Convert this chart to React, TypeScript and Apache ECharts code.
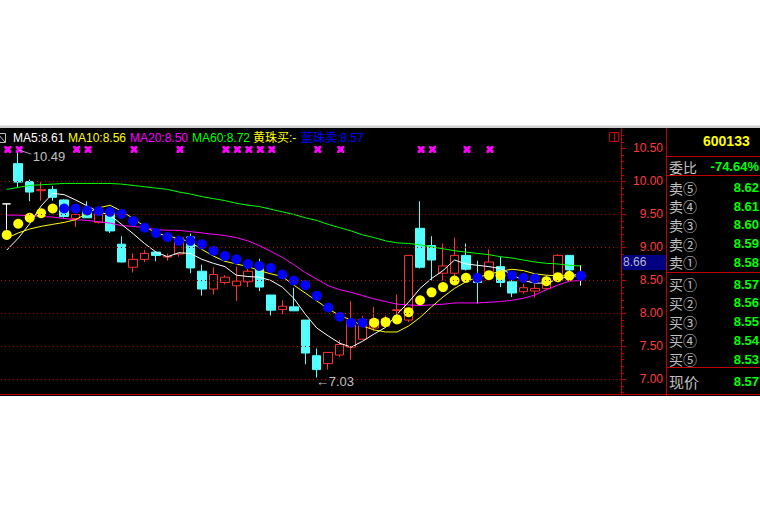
import React, { useEffect, useRef } from 'react';
import * as echarts from 'echarts';

// ---------- data ----------
const slotCount = 54; // trading-day slots on the axis (last ones empty)
const days: string[] = Array.from({ length: slotCount }, (_, i) => `D${i + 1}`);

// [open, close, low, high]
const candles: number[][] = [
  [9.66, 9.66, 9.27, 9.66],
  [10.27, 9.99, 9.9, 10.49],
  [10.0, 9.84, 9.7, 10.03],
  [9.86, 9.875, 9.71, 9.99],
  [9.88, 9.76, 9.71, 9.93],
  [9.72, 9.47, 9.45, 9.73],
  [9.44, 9.5, 9.31, 9.5],
  [9.57, 9.45, 9.45, 9.7],
  [9.38, 9.55, 9.36, 9.55],
  [9.53, 9.25, 9.22, 9.56],
  [9.05, 8.78, 8.77, 9.17],
  [8.7, 8.82, 8.62, 8.91],
  [8.82, 8.91, 8.78, 8.96],
  [8.93, 8.88, 8.79, 8.93],
  [8.855, 8.865, 8.8, 8.91],
  [8.9, 9.15, 8.86, 9.18],
  [9.16, 8.69, 8.61, 9.21],
  [8.64, 8.37, 8.27, 8.74],
  [8.37, 8.59, 8.29, 8.7],
  [8.47, 8.55, 8.44, 8.58],
  [8.42, 8.49, 8.19, 8.71],
  [8.48, 8.64, 8.4, 8.71],
  [8.68, 8.4, 8.34, 8.83],
  [8.28, 8.05, 7.97, 8.28],
  [8.06, 8.11, 7.99, 8.2],
  [8.1, 8.04, 8.04, 8.39],
  [7.9, 7.4, 7.23, 7.9],
  [7.36, 7.15, 7.03, 7.47],
  [7.24, 7.41, 7.15, 7.41],
  [7.37, 7.53, 7.34, 7.6],
  [7.49, 7.89, 7.3, 8.19],
  [7.61, 7.91, 7.6, 7.96],
  [7.78, 7.91, 7.73, 8.1],
  [7.81, 7.92, 7.79, 7.97],
  [8.045, 8.055, 7.95, 8.29],
  [7.9, 8.88, 7.87, 8.88],
  [9.29, 8.7, 8.68, 9.7],
  [9.03, 8.81, 8.5, 9.17],
  [8.61, 8.72, 8.5, 9.06],
  [8.61, 8.88, 8.55, 9.15],
  [8.88, 8.67, 8.65, 9.06],
  [8.54, 8.47, 8.15, 8.8],
  [8.58, 8.78, 8.57, 8.97],
  [8.71, 8.47, 8.4, 8.86],
  [8.48, 8.31, 8.25, 8.53],
  [8.33, 8.39, 8.3, 8.45],
  [8.34, 8.38, 8.24, 8.46],
  [8.38, 8.53, 8.35, 8.58],
  [8.5, 8.88, 8.48, 8.9],
  [8.88, 8.66, 8.62, 8.88],
  [8.57, 8.57, 8.42, 8.73],
];
const dojiIdx = [0, 50]; // flat (white) candles

const ma5 = [8.96, 9.14, 9.36, 9.63, 9.82, 9.8, 9.72, 9.63, 9.54, 9.49, 9.35, 9.21, 9.06, 8.93, 8.86, 8.92, 8.91, 8.82, 8.76, 8.71, 8.58, 8.56, 8.55, 8.5, 8.4, 8.23, 7.99, 7.78, 7.66, 7.55, 7.49, 7.58, 7.69, 7.79, 7.99, 8.17, 8.38, 8.53, 8.65, 8.81, 8.75, 8.73, 8.71, 8.68, 8.59, 8.5, 8.46, 8.46, 8.52, 8.56, 8.61];
const ma10 = [9.14, 9.22, 9.28, 9.32, 9.35, 9.38, 9.42, 9.52, 9.6, 9.64, 9.55, 9.44, 9.32, 9.22, 9.17, 9.14, 9.08, 8.97, 8.87, 8.79, 8.75, 8.71, 8.65, 8.6, 8.56, 8.43, 8.31, 8.19, 8.07, 7.97, 7.9, 7.81, 7.75, 7.72, 7.72, 7.81, 7.94, 8.1, 8.25, 8.38, 8.48, 8.55, 8.59, 8.64, 8.67, 8.65, 8.6, 8.58, 8.57, 8.57, 8.56];
const ma20 = [9.49, 9.49, 9.48, 9.47, 9.46, 9.44, 9.42, 9.41, 9.39, 9.37, 9.33, 9.32, 9.3, 9.27, 9.26, 9.26, 9.24, 9.22, 9.2, 9.18, 9.15, 9.1, 9.03, 8.94, 8.85, 8.74, 8.62, 8.52, 8.42, 8.36, 8.32, 8.27, 8.22, 8.18, 8.14, 8.13, 8.12, 8.13, 8.14, 8.16, 8.16, 8.16, 8.17, 8.18, 8.2, 8.23, 8.28, 8.36, 8.43, 8.49, 8.5];
const ma60 = [9.88, 9.91, 9.94, 9.95, 9.96, 9.97, 9.97, 9.97, 9.97, 9.97, 9.96, 9.94, 9.92, 9.9, 9.88, 9.84, 9.81, 9.77, 9.74, 9.71, 9.67, 9.64, 9.62, 9.58, 9.54, 9.5, 9.45, 9.41, 9.35, 9.3, 9.25, 9.19, 9.15, 9.1, 9.07, 9.06, 9.04, 9.01, 8.98, 8.95, 8.93, 8.91, 8.89, 8.86, 8.84, 8.81, 8.78, 8.76, 8.75, 8.73, 8.72];

const buyDots: (number | string)[] = [9.19, 9.36, 9.45, 9.52, 9.59, '-', '-', '-', '-', '-', '-', '-', '-', '-', '-', '-', '-', '-', '-', '-', '-', '-', '-', '-', '-', '-', '-', '-', '-', '-', '-', '-', 7.86, 7.87, 7.91, 8.02, 8.2, 8.32, 8.4, 8.5, 8.54, '-', 8.58, 8.58, '-', '-', '-', 8.49, 8.55, 8.57, '-'];
const sellDots: (number | string)[] = ['-', '-', '-', '-', '-', 9.59, 9.59, 9.56, 9.55, 9.54, 9.51, 9.4, 9.3, 9.22, 9.16, 9.1, 9.1, 9.05, 8.95, 8.87, 8.82, 8.75, 8.72, 8.69, 8.59, 8.5, 8.43, 8.27, 8.09, 7.95, 7.86, 7.86, '-', '-', '-', '-', '-', '-', '-', '-', '-', 8.54, '-', '-', 8.58, 8.54, 8.53, '-', '-', '-', 8.57];

const signalIdx = [0, 1, 6, 7, 11, 15, 19, 20, 21, 22, 23, 27, 29, 36, 37, 40, 42];

const majorTicks = [7.0, 7.5, 8.0, 8.5, 9.0, 9.5, 10.0, 10.5];
const minorTicks = [6.8, 6.9, 7.1, 7.2, 7.3, 7.4, 7.6, 7.7, 7.8, 7.9, 8.1, 8.2, 8.3, 8.4, 8.6, 8.7, 8.8, 8.9, 9.1, 9.2, 9.3, 9.4, 9.6, 9.7, 9.8, 9.9, 10.1, 10.2, 10.3, 10.4, 10.6, 10.7];
const gridLevels = [7.0, 7.5, 8.0, 8.5, 9.0, 9.5, 10.0];
const markedPrice = 8.66;

const stockCode = '600133';
const weibi = '-74.64%';
const askLabels = ['卖⑤', '卖④', '卖③', '卖②', '卖①'];
const askPrices = [8.62, 8.61, 8.6, 8.59, 8.58];
const bidLabels = ['买①', '买②', '买③', '买④', '买⑤'];
const bidPrices = [8.57, 8.56, 8.55, 8.54, 8.53];
const lastPrice = 8.57;

// ---------- styles ----------
const LATIN = '"Liberation Sans", "Noto Sans CJK SC", sans-serif';
const CJK = '"Noto Sans CJK SC", "Liberation Sans", sans-serif';
const RED_LINE = '#c00000';
const UP = '#ff3232';
const DOWN = '#54ffff';

const last = (arr: (number | string)[]) => arr[arr.length - 1];
const fmt = (v: number | string) => (typeof v === 'number' ? v.toFixed(2) : '-');

export default function App() {
  const ref = useRef<HTMLDivElement>(null);

  useEffect(() => {
    const chart = echarts.init(ref.current!, undefined, { renderer: 'svg' });

    const candleData = candles.map((c, i) =>
      dojiIdx.includes(i)
        ? { value: c, itemStyle: { color: '#ffffff', color0: '#ffffff', borderColor: '#ffffff', borderColor0: '#ffffff' } }
        : c
    );

    const xPath = 'path://M0 0h3l2 2 2-2h3v3l-2 2 2 2v3h-3l-2-2-2 2h-3v-3l2-2-2-2z';

    chart.setOption({
      animation: false,
      backgroundColor: '#ffffff',
      grid: { left: 1, top: 128, width: 620, height: 266, outerBoundsMode: 'none' },
      xAxis: { type: 'category', data: days, boundaryGap: true, show: false },
      yAxis: [
        {
          type: 'value',
          position: 'right',
          min: 6.78,
          max: 10.81,
          axisLine: { show: true, lineStyle: { color: RED_LINE, width: 1 } },
          axisTick: { show: true, customValues: majorTicks, length: 5, lineStyle: { color: RED_LINE } },
          axisLabel: {
            customValues: majorTicks,
            formatter: (v: number) => v.toFixed(2),
            color: '#ff3c3c',
            fontSize: 12,
            fontFamily: LATIN,
            align: 'right',
            margin: 42,
          },
          splitLine: { show: false },
        },
        {
          type: 'value',
          position: 'right',
          min: 6.78,
          max: 10.81,
          axisLine: { show: false },
          axisTick: { show: true, customValues: minorTicks, length: 3, lineStyle: { color: RED_LINE } },
          axisLabel: { show: false },
          splitLine: { show: false },
        },
      ],
      series: [
        {
          type: 'candlestick',
          data: candleData,
          barWidth: 9,
          z: 2,
          itemStyle: { color: '#000000', color0: DOWN, borderColor: UP, borderColor0: DOWN, borderWidth: 1 },
          markLine: {
            silent: true,
            symbol: ['none', 'none'],
            label: { show: false },
            lineStyle: { color: RED_LINE, type: [1, 3], width: 1 },
            data: gridLevels.map((v) => ({ yAxis: v })),
          },
        },
        { type: 'line', data: ma60, showSymbol: false, symbol: 'none', z: 3, lineStyle: { color: '#00ff00', width: 1 } },
        { type: 'line', data: ma20, showSymbol: false, symbol: 'none', z: 3, lineStyle: { color: '#ff00ff', width: 1 } },
        { type: 'line', data: ma10, showSymbol: false, symbol: 'none', z: 3, lineStyle: { color: '#ffff00', width: 1 } },
        { type: 'line', data: ma5, showSymbol: false, symbol: 'none', z: 3, lineStyle: { color: '#ffffff', width: 1 } },
        { type: 'scatter', data: buyDots, symbol: 'circle', symbolSize: 10, z: 4, itemStyle: { color: '#ffff00', opacity: 1 } },
        { type: 'scatter', data: sellDots, symbol: 'circle', symbolSize: 10, z: 4, itemStyle: { color: '#0000ff', opacity: 1 } },
        {
          type: 'scatter',
          data: signalIdx.map((i) => [i, 10.485]),
          symbol: xPath,
          symbolSize: 7,
          symbolOffset: [1, 0],
          z: 4,
          itemStyle: { color: '#ff00ff', opacity: 1 },
        },
      ],
    });

    const px = (i: number, v: number) =>
      chart.convertToPixel({ xAxisIndex: 0, yAxisIndex: 0 }, [i, v]) as number[];

    // extremes
    let hiIdx = 0;
    let loIdx = 0;
    candles.forEach((c, i) => {
      if (c[3] > candles[hiIdx][3]) hiIdx = i;
      if (c[2] < candles[loIdx][2]) loIdx = i;
    });
    const hiP = px(hiIdx, candles[hiIdx][3]);
    const loP = px(loIdx, candles[loIdx][2]);
    const markP = px(0, markedPrice);

    const txt = (id: string, x: number, y: number, text: string, fill: string, font: string, z = 10, align = 'left') => ({
      type: 'text',
      id,
      x,
      y,
      z,
      silent: true,
      style: { text, fill, font, align, verticalAlign: 'middle' },
    });
    const hline = (id: string, x1: number, x2: number, y: number, color = RED_LINE) => ({
      type: 'line',
      id,
      z: 9,
      silent: true,
      shape: { x1, y1: y, x2, y2: y },
      style: { stroke: color, lineWidth: 1 },
    });

    const header = [
      { t: `MA5:${fmt(last(ma5))}`, x: 13, c: '#ffffff' },
      { t: `MA10:${fmt(last(ma10))}`, x: 68, c: '#ffff00' },
      { t: `MA20:${fmt(last(ma20))}`, x: 130, c: '#ff00ff' },
      { t: `MA60:${fmt(last(ma60))}`, x: 192, c: '#00ff00' },
      { t: `黄珠买:${fmt(last(buyDots))}`, x: 253, c: '#ffff00' },
      { t: `蓝珠卖:${fmt(last(sellDots))}`, x: 301, c: '#0000ff' },
    ];

    const VAL_FONT = `bold 13px ${LATIN}`;
    const VAL_X = 759;

    const graphics: any[] = [
      { type: 'rect', id: 'bg', z: -10, silent: true, shape: { x: 0, y: 128, width: 760, height: 268 }, style: { fill: '#000000' } },
      { type: 'rect', id: 'topbar', z: 9, silent: true, shape: { x: 0, y: 125.5, width: 760, height: 2.5 }, style: { fill: '#d0d0d0' } },
      { type: 'rect', id: 'icon', z: 10, silent: true, shape: { x: -2.5, y: 133.5, width: 8, height: 9 }, style: { fill: 'none', stroke: '#c0c0c0', lineWidth: 1 } },
      { type: 'line', id: 'iconl', z: 10, silent: true, shape: { x1: -2, y1: 134, x2: 5, y2: 142 }, style: { stroke: '#c0c0c0', lineWidth: 1 } },
      ...header.map((h, k) => txt(`h${k}`, h.x, 138, h.t, h.c, `12px ${LATIN}`)),
      { type: 'rect', id: 'wicon', z: 10, silent: true, shape: { x: 609.5, y: 132.5, width: 9, height: 9 }, style: { fill: 'none', stroke: '#d00000', lineWidth: 1 } },
      { type: 'line', id: 'wiconl', z: 10, silent: true, shape: { x1: 614.5, y1: 132.5, x2: 614.5, y2: 141.5 }, style: { stroke: '#d00000', lineWidth: 1 } },
      // panel frame
      { type: 'line', id: 'vpanel', z: 9, silent: true, shape: { x1: 666.5, y1: 128, x2: 666.5, y2: 396 }, style: { stroke: RED_LINE, lineWidth: 1 } },
      hline('bottom', 0, 760, 394.5),
      hline('p1', 666, 760, 156.5),
      hline('p2', 666, 760, 175.5),
      hline('p3', 666, 760, 272.5),
      hline('p4', 666, 760, 367.5),
      txt('code', 703, 141, stockCode, '#ffff00', `bold 14px ${LATIN}`),
      txt('wbl', 669, 166.5, '委比', '#c0c0c0', `14px ${CJK}`),
      txt('wbv', VAL_X, 166.5, weibi, '#00ff00', VAL_FONT, 10, 'right'),
      ...askLabels.map((l, k) => txt(`al${k}`, 669, 187.5 + k * 18.7, l, '#c0c0c0', `14px ${CJK}`)),
      ...askPrices.map((p, k) => txt(`ap${k}`, VAL_X, 187.5 + k * 18.7, p.toFixed(2), '#00ff00', VAL_FONT, 10, 'right')),
      ...bidLabels.map((l, k) => txt(`bl${k}`, 669, 284 + k * 18.75, l, '#c0c0c0', `14px ${CJK}`)),
      ...bidPrices.map((p, k) => txt(`bp${k}`, VAL_X, 284 + k * 18.75, p.toFixed(2), '#00ff00', VAL_FONT, 10, 'right')),
      txt('xjl', 669, 381, '现价', '#c0c0c0', `15px ${CJK}`),
      txt('xjv', VAL_X, 381, lastPrice.toFixed(2), '#00ff00', VAL_FONT, 10, 'right'),
      txt('zdl', 669, 403, '涨跌', '#c0c0c0', `15px ${CJK}`),
      { type: 'rect', id: 'cover', z: 20, silent: true, shape: { x: 0, y: 396, width: 760, height: 126 }, style: { fill: '#ffffff' } },
      // marked price box on the axis
      { type: 'rect', id: 'mbox', z: 11, silent: true, shape: { x: 622, y: markP[1] - 15, width: 44, height: 15 }, style: { fill: '#000080' } },
      txt('mtxt', 623, markP[1] - 7.5, markedPrice.toFixed(2), '#b8b8c8', `12px ${LATIN}`, 12),
      // high annotation
      { type: 'line', id: 'hiln', z: 10, silent: true, shape: { x1: hiP[0] + 1, y1: hiP[1] + 1, x2: hiP[0] + 13, y2: hiP[1] + 5 }, style: { stroke: '#a0a0a0', lineWidth: 1 } },
      txt('hitx', hiP[0] + 14.5, hiP[1] + 7.5, candles[hiIdx][3].toFixed(2), '#c0c0c0', `13px ${LATIN}`),
      // low annotation
      txt('lotx', loP[0] - 1, loP[1] + 4, `←${candles[loIdx][2].toFixed(2)}`, '#c0c0c0', `13px ${LATIN}`),
    ];

    chart.setOption({ graphic: graphics });

    return () => chart.dispose();
  }, []);

  return <div ref={ref} style={{ position: 'fixed', left: 0, top: 0, width: 760, height: 522 }} />;
}
